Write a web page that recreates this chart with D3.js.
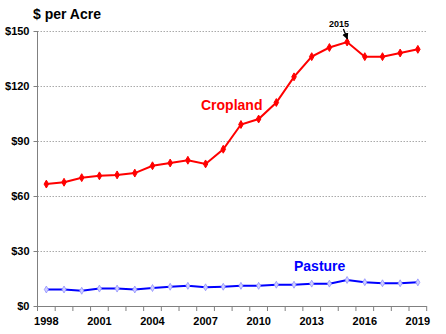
<!DOCTYPE html>
<html><head><meta charset="utf-8">
<script src="https://cdn.jsdelivr.net/npm/d3@7"></script>
<style>
html,body{margin:0;padding:0;background:#fff;}
svg{display:block;font-family:Arial,"Liberation Sans",sans-serif;}
</style></head>
<body>
<svg id="chart" width="446" height="334"></svg>
<script>
const years = [1998,1999,2000,2001,2002,2003,2004,2005,2006,2007,2008,2009,2010,2011,2012,2013,2014,2015,2016,2017,2018,2019];
const cropland = [66.5,67.5,70,71,71.5,72.5,76.5,78,79.5,77.5,85.5,99,102,111,125,136,141,144,136,136,138,140];
const pasture = [9,9,8.3,9.5,9.5,9,9.8,10.5,11,10.2,10.5,11,11,11.6,11.6,12.2,12.2,14.2,13,12.4,12.4,12.9];
const yTicks = [0,30,60,90,120,150];
const xTickLabels = [1998,2001,2004,2007,2010,2013,2016,2019];

const svg = d3.select("#chart");
const pLeft = 37.5, pRight = 426.7, pTop = 31, pBottom = 306;

const x = d3.scaleBand().domain(years).range([pLeft, pRight]).paddingInner(0).paddingOuter(0);
const y = d3.scaleLinear().domain([0,150]).range([pBottom, pTop]);
const cx = d => x(d) + x.bandwidth()/2;

// gridlines
svg.append("g").selectAll("line").data(yTicks.filter(v=>v>0)).join("line")
  .attr("x1", pLeft).attr("x2", pRight)
  .attr("y1", d=>y(d)+0.5).attr("y2", d=>y(d)+0.5)
  .attr("stroke","#aaa").attr("stroke-width",1).attr("stroke-dasharray","1.5,1.5");

// y axis
const yAxis = svg.append("g").attr("transform",`translate(${pLeft},0)`)
  .call(d3.axisLeft(y).tickValues(yTicks).tickSize(4).tickFormat(d=>"$"+d));
yAxis.select(".domain").attr("stroke","#808080").attr("d",`M0,${pTop}V${pBottom}`);
yAxis.selectAll(".tick line").attr("stroke","#808080");
yAxis.selectAll(".tick text").attr("font-size","11px").attr("font-weight","bold")
  .attr("font-family","Arial, 'Liberation Sans', sans-serif").attr("fill","#000").attr("x",-8).attr("dy","0.35em");

// x axis: ticks at band boundaries
const xAxisG = svg.append("g").attr("transform",`translate(0,${pBottom})`);
xAxisG.append("line").attr("x1",pLeft).attr("x2",pRight).attr("y1",0.5).attr("y2",0.5).attr("stroke","#808080");
const boundaries = years.map(d=>x(d)).concat([pRight]);
xAxisG.selectAll("line.tk").data(boundaries).join("line").attr("class","tk")
  .attr("x1",d=>d).attr("x2",d=>d).attr("y1",0).attr("y2",5).attr("stroke","#808080");
xAxisG.selectAll("text").data(xTickLabels).join("text")
  .attr("x",d=>cx(d)).attr("y",19).attr("text-anchor","middle")
  .attr("font-size","11px").attr("font-weight","bold").attr("fill","#000").text(d=>d);

// title
svg.append("text").attr("x",33).attr("y",19).attr("font-size","14px").attr("font-weight","bold").text("$ per Acre");

const line = d3.line().x((d,i)=>cx(years[i])).y(d=>y(d));

// pasture
svg.append("path").datum(pasture).attr("d",line).attr("fill","none").attr("stroke","#0000ff").attr("stroke-width",2);
svg.append("g").selectAll("path").data(pasture).join("path")
  .attr("transform",(d,i)=>`translate(${cx(years[i])},${y(d)})`)
  .attr("d",d3.symbol(d3.symbolDiamond,14))
  .attr("fill","#d0d0ff").attr("stroke","#9090ff").attr("stroke-width",0.8);

// cropland
svg.append("path").datum(cropland).attr("d",line).attr("fill","none").attr("stroke","#ff0000").attr("stroke-width",2);
svg.append("g").selectAll("path").data(cropland).join("path")
  .attr("transform",(d,i)=>`translate(${cx(years[i])},${y(d)})`)
  .attr("d",d3.symbol(d3.symbolDiamond,18))
  .attr("fill","#ff0000").attr("stroke","#ff0000").attr("stroke-width",1);

// labels
svg.append("text").attr("x",201).attr("y",110).attr("font-size","14px").attr("font-weight","bold").attr("fill","#ff0000").text("Cropland");
svg.append("text").attr("x",294).attr("y",271).attr("font-size","14px").attr("font-weight","bold").attr("fill","#0000ff").text("Pasture");

// 2015 annotation
svg.append("defs").append("marker").attr("id","ah").attr("viewBox","0 0 10 10").attr("refX",9).attr("refY",5)
  .attr("markerWidth",5).attr("markerHeight",5).attr("orient","auto")
  .append("path").attr("d","M0,0L10,5L0,10z").attr("fill","#000");
const ax = cx(2015);
svg.append("text").attr("x",ax-8).attr("y",26.5).attr("text-anchor","middle").attr("font-size","9px").attr("font-weight","bold").text("2015");
svg.append("line").attr("x1",ax-3.7).attr("y1",29).attr("x2",ax+0.3).attr("y2",39)
  .attr("stroke","#000").attr("stroke-width",1.3).attr("marker-end","url(#ah)");
</script>
</body></html>
